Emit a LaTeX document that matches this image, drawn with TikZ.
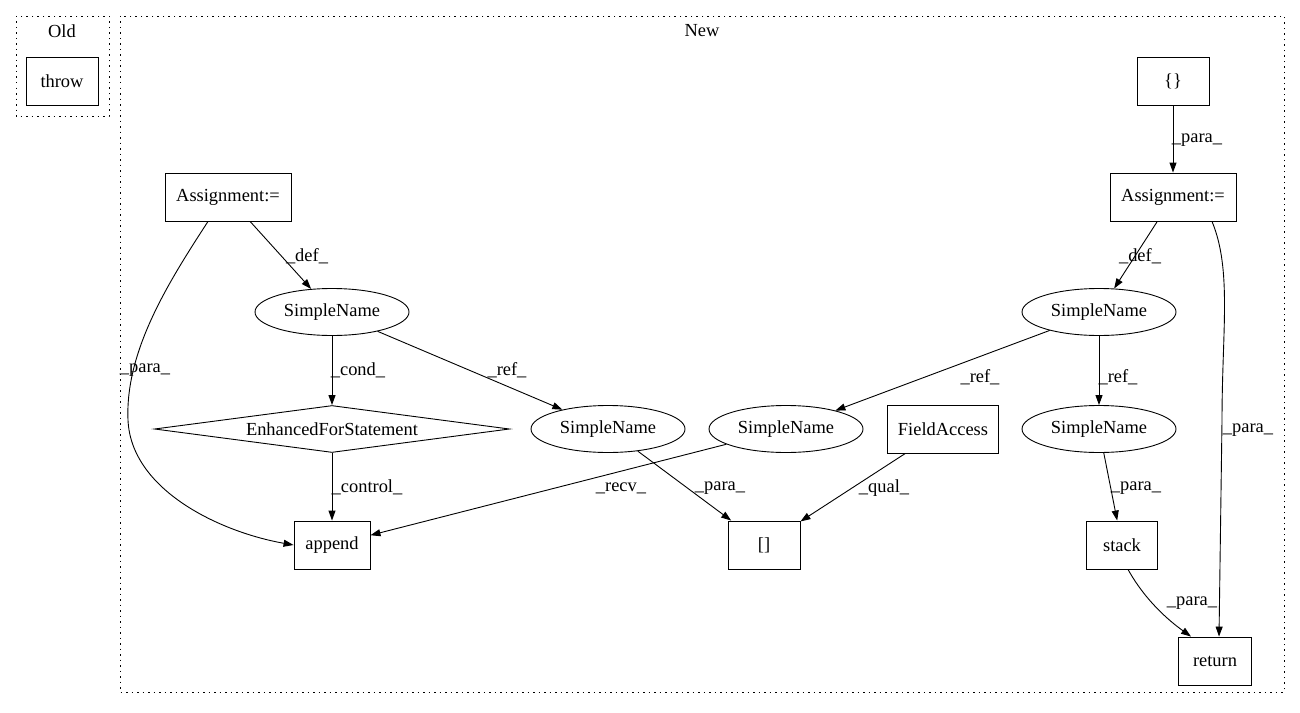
\documentclass[tikz,border=0pt]{standalone}
\usepackage{fontspec}
\setmainfont{Liberation Serif}
\usetikzlibrary{shapes.geometric,arrows.meta}
\tikzset{
  every node/.style={font=\fontsize{18.5}{21}\selectfont, inner sep=0pt},
  box/.style={draw, rectangle, minimum height=48bp, line width=0.9bp},
  oval/.style={draw, ellipse, minimum width=154bp, minimum height=47bp, line width=0.9bp},
  dmd/.style={draw, diamond, aspect=7.5, minimum width=355bp, minimum height=47bp, line width=0.9bp},
  edge/.style={line width=0.9bp, -{Triangle[length=10bp,width=7bp]}},
  lbl/.style={font=\fontsize{18.5}{21}\selectfont},
  cluster/.style={draw, line width=0.9bp, dash pattern=on 1.5bp off 4bp}
}
\begin{document}
\begin{tikzpicture}[x=1bp,y=-1bp]
\useasboundingbox (0,0) rectangle (1300,712);
% clusters
\draw[cluster] (16,16) rectangle (109,116);
\draw[cluster] (120,16) rectangle (1284,692);
\node (oldlbl) at (62,31) {Old};
\node (newlbl) at (702,31) {New};
% nodes
\node[box, minimum width=72bp] (throw) at (62,81) {throw};
\node[box, minimum width=72bp] (brace) at (1173,81) {\{\}};
\node[box, minimum width=126bp] (asgR) at (1173,197) {Assignment:=};
\node[box, minimum width=126bp] (asgL) at (228,197) {Assignment:=};
\node[oval] (snTL) at (332,312) {SimpleName};
\node[oval] (snTR) at (1099,312) {SimpleName};
\node[dmd] (efs) at (332,429) {EnhancedForStatement};
\node[oval] (snA) at (608,429) {SimpleName};
\node[oval] (snB) at (786,429) {SimpleName};
\node[box, minimum width=111bp] (fa) at (943,429) {FieldAccess};
\node[oval] (snR) at (1099,429) {SimpleName};
\node[box, minimum width=76bp] (append) at (332,545) {append};
\node[box, minimum width=72bp] (idx) at (764,545) {[]};
\node[box, minimum width=71bp] (stack) at (1122,545) {stack};
\node[box, minimum width=73bp] (ret) at (1215,661) {return};
% edges
\draw[edge] (brace) -- (asgR);
\draw[edge] (asgR) -- (snTR);
\draw[edge] (asgL) -- (snTL);
\draw[edge] (snTL) -- (efs);
\draw[edge] (snTL) -- (snA);
\draw[edge] (efs) -- (append);
\draw[edge] (snA) -- (idx);
\draw[edge] (snB) -- (append);
\draw[edge] (snTR) -- (snB);
\draw[edge] (snTR) -- (snR);
\draw[edge] (snR) -- (stack);
\draw[edge] (fa) -- (idx);
\draw[edge] ([xshift=-20bp]asgL.south) .. controls (170,280) and (125,350) .. (128,420) .. controls (131,490) and (220,532) .. (append.west);
\draw[edge] ([xshift=39bp]asgR.south) .. controls (1232,270) and (1222,330) .. (1222,420) -- ([xshift=4bp]ret.north);
\draw[edge] ([xshift=6bp]stack.south) .. controls (1145,600) and (1168,620) .. ([xshift=-24bp]ret.north);
% labels
\node[lbl] (l1) at (1197,140) {\_para\_};
\node[lbl] (l2) at (1140,256) {\_def\_};
\node[lbl] (l3) at (307,256) {\_def\_};
\node[lbl] (l4) at (145,370) {\_para\_};
\node[lbl] (l5) at (358,370) {\_cond\_};
\node[lbl] (l6) at (507,370) {\_ref\_};
\node[lbl] (l7) at (367,487) {\_control\_};
\node[lbl] (l8) at (621,488) {\_recv\_};
\node[lbl] (l9) at (720,488) {\_para\_};
\node[lbl] (l10) at (884,488) {\_qual\_};
\node[lbl] (l11) at (980,377) {\_ref\_};
\node[lbl] (l12) at (1118,377) {\_ref\_};
\node[lbl] (l13) at (1136,488) {\_para\_};
\node[lbl] (l14) at (1248,430) {\_para\_};
\node[lbl] (l15) at (1192,603) {\_para\_};
\end{tikzpicture}
\end{document}
